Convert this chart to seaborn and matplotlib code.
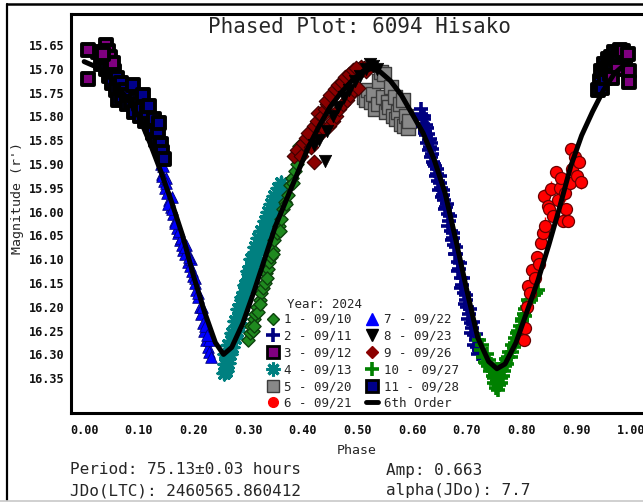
import matplotlib
matplotlib.use("Agg")
import matplotlib.pyplot as plt
from matplotlib.lines import Line2D
import seaborn as sns

sns.set_theme(style="white")
plt.rcParams["font.family"] = ["DejaVu Sans Mono", "DejaVu Sans"]

# ---------------------------------------------------------------- data
# 1 - 09/10
s1_phase = [0.300, 0.303, 0.305, 0.308, 0.310, 0.313, 0.316, 0.318, 0.321, 0.324,
            0.327, 0.330, 0.333, 0.336, 0.339, 0.342, 0.345, 0.348, 0.352, 0.356,
            0.360, 0.364, 0.368, 0.372, 0.376, 0.380, 0.385, 0.390, 0.393, 0.400,
            0.405, 0.410, 0.311, 0.322, 0.334, 0.346, 0.358, 0.370, 0.382]
s1_mag = [16.270, 16.255, 16.240, 16.250, 16.225, 16.215, 16.200, 16.210, 16.185, 16.170,
          16.160, 16.150, 16.130, 16.120, 16.105, 16.095, 16.080, 16.060, 16.045, 16.030,
          16.015, 15.995, 15.980, 15.965, 15.945, 15.930, 15.915, 15.900, 15.862, 15.870,
          15.860, 15.845, 16.240, 16.195, 16.140, 16.090, 16.040, 15.985, 15.940]

# 2 - 09/11
s2_phase = [0.616, 0.618, 0.620, 0.622, 0.624, 0.626, 0.628, 0.630, 0.632, 0.634,
            0.636, 0.639, 0.642, 0.645, 0.648, 0.650, 0.653, 0.656, 0.659, 0.662,
            0.665, 0.668, 0.671, 0.674, 0.677, 0.680, 0.683, 0.686, 0.689, 0.692,
            0.695, 0.698, 0.701, 0.704, 0.707, 0.710, 0.713, 0.716, 0.719, 0.722,
            0.617, 0.619, 0.621, 0.623, 0.625, 0.627, 0.629, 0.631, 0.633, 0.635,
            0.637, 0.640, 0.643, 0.646, 0.649, 0.651, 0.654, 0.657, 0.660, 0.663,
            0.666, 0.669, 0.672, 0.675, 0.678, 0.681, 0.684, 0.687, 0.690, 0.693,
            0.696, 0.699, 0.702, 0.705, 0.708, 0.711, 0.714, 0.717, 0.720, 0.724]
s2_mag = [15.785, 15.800, 15.815, 15.805, 15.830, 15.840, 15.825, 15.850, 15.865, 15.855,
          15.880, 15.895, 15.905, 15.920, 15.935, 15.925, 15.950, 15.965, 15.975, 15.990,
          16.005, 16.020, 16.040, 16.055, 16.070, 16.090, 16.105, 16.120, 16.140, 16.155,
          16.170, 16.185, 16.200, 16.215, 16.235, 16.245, 16.260, 16.270, 16.285, 16.290,
          15.795, 15.820, 15.800, 15.835, 15.818, 15.855, 15.838, 15.870, 15.848, 15.885,
          15.868, 15.900, 15.925, 15.910, 15.955, 15.940, 15.970, 15.955, 15.995, 15.985,
          16.030, 16.010, 16.060, 16.045, 16.090, 16.075, 16.125, 16.108, 16.160, 16.140,
          16.195, 16.175, 16.225, 16.205, 16.255, 16.232, 16.280, 16.258, 16.300, 16.298]

# 3 - 09/12
s3_phase = [0.007, 0.007, 0.040, 0.043, 0.048, 0.052, 0.035,
            0.985, 0.994, 0.996, 0.997, 0.975, 0.965]
s3_mag = [15.660, 15.722, 15.650, 15.662, 15.675, 15.688, 15.668,
          15.662, 15.668, 15.705, 15.727, 15.700, 15.720]

# 4 - 09/13
s4_phase = [0.255, 0.257, 0.259, 0.261, 0.263, 0.265, 0.267, 0.269, 0.271, 0.273,
            0.275, 0.277, 0.279, 0.281, 0.283, 0.285, 0.287, 0.289, 0.291, 0.293,
            0.295, 0.297, 0.299, 0.301, 0.303, 0.305, 0.307, 0.309, 0.311, 0.313,
            0.316, 0.319, 0.322, 0.325, 0.328, 0.331, 0.334, 0.337, 0.340, 0.343,
            0.346, 0.349, 0.352, 0.355, 0.358, 0.361,
            0.258, 0.264, 0.270, 0.276, 0.282, 0.288, 0.294, 0.300, 0.306, 0.312,
            0.318, 0.324, 0.330, 0.336, 0.342, 0.348, 0.354, 0.360]
s4_mag = [16.340, 16.320, 16.335, 16.305, 16.318, 16.290, 16.300, 16.272, 16.285, 16.258,
          16.265, 16.240, 16.250, 16.222, 16.235, 16.205, 16.215, 16.185, 16.198, 16.168,
          16.178, 16.150, 16.160, 16.132, 16.145, 16.115, 16.128, 16.100, 16.112, 16.085,
          16.098, 16.070, 16.082, 16.052, 16.065, 16.035, 16.048, 16.018, 16.030, 15.998,
          16.010, 15.980, 15.992, 15.962, 15.975, 15.955,
          16.300, 16.280, 16.255, 16.230, 16.205, 16.180, 16.155, 16.125, 16.100, 16.075,
          16.055, 16.040, 16.020, 16.000, 15.985, 15.968, 15.950, 15.940]

# 5 - 09/20
s5_phase = [0.512, 0.516, 0.520, 0.525, 0.528, 0.532, 0.537, 0.540, 0.543, 0.546,
            0.548, 0.552, 0.555, 0.558, 0.561, 0.565, 0.568, 0.571, 0.574, 0.578,
            0.580, 0.583, 0.585, 0.589, 0.592, 0.595]
s5_mag = [15.760, 15.765, 15.745, 15.770, 15.754, 15.785, 15.775, 15.725, 15.706, 15.760,
          15.712, 15.790, 15.770, 15.780, 15.738, 15.800, 15.760, 15.805, 15.790, 15.775,
          15.815, 15.765, 15.820, 15.800, 15.825, 15.810]

# 6 - 09/21
s6_phase = [0.804, 0.806, 0.810, 0.812, 0.816, 0.820, 0.824, 0.828, 0.832, 0.835,
            0.839, 0.841, 0.843, 0.848, 0.850, 0.854, 0.858, 0.863, 0.866, 0.870,
            0.873, 0.876, 0.879, 0.881, 0.885, 0.888, 0.890, 0.893, 0.897, 0.901,
            0.905, 0.909]
s6_mag = [16.270, 16.245, 16.200, 16.156, 16.170, 16.123, 16.140, 16.095, 16.110, 16.067,
          16.046, 15.967, 16.030, 15.988, 15.994, 15.952, 16.010, 15.917, 15.975, 15.950,
          15.930, 16.020, 15.960, 15.994, 16.019, 15.940, 15.869, 15.910, 15.885, 15.925,
          15.896, 15.937]
s6_err = [0.010, 0.012, 0.015, 0.010, 0.018, 0.012, 0.020, 0.010, 0.015, 0.012,
          0.010, 0.014, 0.018, 0.012, 0.010, 0.016, 0.012, 0.010, 0.020, 0.012,
          0.014, 0.010, 0.018, 0.012, 0.010, 0.015, 0.010, 0.012, 0.014, 0.010,
          0.012, 0.015]

# 7 - 09/22
s7_phase = [0.138, 0.140, 0.142, 0.144, 0.146, 0.148, 0.150, 0.152, 0.155, 0.158,
            0.160, 0.163, 0.166, 0.169, 0.172, 0.175, 0.178, 0.181, 0.184, 0.187,
            0.190, 0.193, 0.196, 0.199, 0.202, 0.205, 0.208, 0.211, 0.214, 0.217,
            0.220, 0.223, 0.226, 0.228, 0.229, 0.232,
            0.143, 0.149, 0.154, 0.161, 0.167, 0.173, 0.179, 0.185, 0.191, 0.197,
            0.203, 0.209, 0.215, 0.221, 0.225]
s7_mag = [15.875, 15.900, 15.920, 15.905, 15.935, 15.950, 15.930, 15.960, 15.975, 15.990,
          15.970, 16.005, 16.020, 16.035, 16.045, 16.060, 16.055, 16.080, 16.090, 16.070,
          16.105, 16.115, 16.100, 16.135, 16.150, 16.165, 16.180, 16.200, 16.215, 16.235,
          16.250, 16.270, 16.285, 16.270, 16.295, 16.305,
          15.925, 15.940, 15.985, 15.995, 16.025, 16.040, 16.070, 16.075, 16.095, 16.125,
          16.140, 16.170, 16.200, 16.240, 16.260]

# 8 - 09/23
s8_phase = [0.420, 0.430, 0.440, 0.445, 0.455, 0.465, 0.475, 0.485, 0.495, 0.505,
            0.515, 0.522, 0.528, 0.535]
s8_mag = [15.860, 15.850, 15.894, 15.830, 15.800, 15.780, 15.760, 15.745, 15.725, 15.715,
          15.700, 15.690, 15.695, 15.700]

# 9 - 09/26
s9_phase = [0.384, 0.390, 0.397, 0.400, 0.405, 0.410, 0.415, 0.420, 0.420, 0.425,
            0.428, 0.430, 0.435, 0.439, 0.440, 0.445, 0.448, 0.452, 0.455, 0.457,
            0.460, 0.463, 0.467, 0.470, 0.473, 0.476, 0.480, 0.483, 0.487, 0.490,
            0.493, 0.496, 0.500, 0.503, 0.506, 0.509, 0.512, 0.515,
            0.443, 0.450, 0.458, 0.465, 0.472, 0.478, 0.485, 0.492, 0.498]
s9_mag = [15.883, 15.870, 15.883, 15.855, 15.845, 15.835, 15.865, 15.896, 15.820, 15.810,
          15.792, 15.840, 15.800, 15.827, 15.785, 15.775, 15.820, 15.760, 15.810, 15.750,
          15.800, 15.745, 15.785, 15.735, 15.775, 15.725, 15.765, 15.720, 15.755, 15.712,
          15.745, 15.705, 15.740, 15.700, 15.696, 15.702, 15.698, 15.705,
          15.768, 15.755, 15.742, 15.735, 15.728, 15.718, 15.710, 15.702, 15.698]

# 10 - 09/27
s10_phase = [0.722, 0.726, 0.730, 0.733, 0.736, 0.739, 0.742, 0.745, 0.747, 0.749,
             0.751, 0.753, 0.755, 0.757, 0.759, 0.761, 0.763, 0.765, 0.768, 0.771,
             0.774, 0.777, 0.780, 0.783, 0.786, 0.789, 0.792, 0.795, 0.798, 0.801,
             0.804, 0.807, 0.810, 0.814, 0.818, 0.822, 0.826, 0.830,
             0.728, 0.735, 0.741, 0.746, 0.750, 0.754, 0.758, 0.762, 0.766, 0.770,
             0.776, 0.782, 0.788, 0.794, 0.800, 0.806, 0.812]
s10_mag = [16.270, 16.290, 16.305, 16.315, 16.300, 16.325, 16.335, 16.320, 16.345, 16.360,
           16.340, 16.370, 16.355, 16.375, 16.345, 16.330, 16.360, 16.320, 16.335, 16.310,
           16.320, 16.295, 16.305, 16.280, 16.285, 16.265, 16.255, 16.260, 16.240, 16.230,
           16.215, 16.220, 16.200, 16.190, 16.185, 16.175, 16.170, 16.165,
           16.280, 16.318, 16.312, 16.330, 16.350, 16.362, 16.365, 16.350, 16.345, 16.325,
           16.305, 16.295, 16.275, 16.250, 16.225, 16.205, 16.185]

# 11 - 09/28
s11_phase = [0.025, 0.030, 0.035, 0.040, 0.045, 0.048, 0.050, 0.055, 0.058, 0.060,
             0.062, 0.065, 0.068, 0.070, 0.075, 0.078, 0.080, 0.085, 0.090, 0.092,
             0.095, 0.100, 0.103, 0.106, 0.108, 0.112, 0.115, 0.119, 0.122, 0.125,
             0.128, 0.132, 0.135, 0.137, 0.139, 0.141, 0.143, 0.146,
             0.940, 0.943, 0.946, 0.948, 0.950, 0.953, 0.956, 0.958, 0.961, 0.964,
             0.967, 0.970, 0.973, 0.977, 0.980]
s11_mag = [15.665, 15.690, 15.675, 15.700, 15.715, 15.690, 15.730, 15.705, 15.745, 15.720,
           15.765, 15.740, 15.730, 15.760, 15.745, 15.775, 15.755, 15.770, 15.735, 15.790,
           15.765, 15.775, 15.800, 15.785, 15.756, 15.810, 15.790, 15.779, 15.820, 15.835,
           15.805, 15.850, 15.830, 15.813, 15.862, 15.858, 15.875, 15.890,
           15.745, 15.725, 15.705, 15.740, 15.690, 15.720, 15.700, 15.680, 15.710, 15.675,
           15.690, 15.665, 15.680, 15.670, 15.660]

# 6th order Fourier fit
fit_phase = [0.00, 0.02, 0.04, 0.06, 0.08, 0.10, 0.12, 0.14, 0.16, 0.18,
             0.20, 0.22, 0.24, 0.255, 0.27, 0.29, 0.31, 0.33, 0.35, 0.37,
             0.39, 0.41, 0.43, 0.45, 0.47, 0.49, 0.51, 0.525, 0.54, 0.56,
             0.58, 0.60, 0.62, 0.64, 0.66, 0.68, 0.70, 0.72, 0.74, 0.755,
             0.77, 0.79, 0.81, 0.83, 0.85, 0.87, 0.89, 0.91, 0.93, 0.95,
             0.97, 0.99, 1.00]
fit_mag = [15.685, 15.695, 15.710, 15.735, 15.765, 15.800, 15.855, 15.915, 15.980, 16.050,
           16.135, 16.210, 16.275, 16.300, 16.285, 16.235, 16.170, 16.100, 16.030, 15.975,
           15.920, 15.865, 15.820, 15.780, 15.750, 15.725, 15.705, 15.700, 15.705, 15.725,
           15.755, 15.795, 15.835, 15.890, 15.960, 16.060, 16.165, 16.265, 16.315, 16.330,
           16.320, 16.275, 16.210, 16.145, 16.070, 15.990, 15.905, 15.840, 15.790, 15.745,
           15.710, 15.690, 15.685]

x_ticks = [0.0, 0.1, 0.2, 0.3, 0.4, 0.5, 0.6, 0.7, 0.8, 0.9, 1.0]
y_ticks = [15.65, 15.70, 15.75, 15.80, 15.85, 15.90, 15.95, 16.00, 16.05, 16.10,
           16.15, 16.20, 16.25, 16.30, 16.35]

# ---------------------------------------------------------------- figure
W, H = 643, 504
fig = plt.figure(figsize=(W / 100, H / 100), dpi=100)
ax = fig.add_axes([70.5 / W, 1 - 413 / H, (644.5 - 70.5) / W, (413 - 14) / H])

common = dict(ax=ax, legend=False)
sns.scatterplot(x=s7_phase, y=s7_mag, marker="^", s=70, color="#0000ff",
                edgecolor="#00007a", linewidth=0.6, zorder=3, **common)
sns.scatterplot(x=s1_phase, y=s1_mag, marker="D", s=45, color="#1f8a1f",
                edgecolor="#0d420d", linewidth=1.0, zorder=3, **common)
sns.scatterplot(x=s4_phase, y=s4_mag, marker=(8, 2, 0), s=85, color="#008080",
                linewidth=2.4, zorder=2, **common)
sns.scatterplot(x=s9_phase, y=s9_mag, marker="D", s=55, color="#8b0000",
                edgecolor="#3d0000", linewidth=0.8, zorder=3, **common)
sns.scatterplot(x=s8_phase, y=s8_mag, marker="v", s=80, color="black",
                edgecolor="black", linewidth=0.5, zorder=3, **common)
sns.scatterplot(x=s5_phase, y=s5_mag, marker="s", s=90, color="#888888",
                edgecolor="#3c3c3c", linewidth=1.0, zorder=2, **common)
sns.scatterplot(x=s2_phase, y=s2_mag, marker="+", s=110, color="#000080",
                linewidth=2.6, zorder=3, **common)
sns.scatterplot(x=s10_phase, y=s10_mag, marker="+", s=110, color="#008000",
                linewidth=2.6, zorder=3, **common)
ax.errorbar(s6_phase, s6_mag, yerr=s6_err, fmt="none", ecolor="#ff0000",
            elinewidth=1.0, zorder=3)
sns.scatterplot(x=s6_phase, y=s6_mag, marker="o", s=75, color="#ff0000",
                edgecolor="#6a0000", linewidth=0.9, zorder=3, **common)
sns.scatterplot(x=s11_phase, y=s11_mag, marker="s", s=70, color="#00008b",
                edgecolor="black", linewidth=2.8, zorder=3, **common)
sns.scatterplot(x=s3_phase, y=s3_mag, marker="s", s=70, color="#800080",
                edgecolor="black", linewidth=2.8, zorder=3, **common)

sns.lineplot(x=fit_phase, y=fit_mag, ax=ax, color="black", linewidth=3.6,
             sort=False, estimator=None, zorder=5)

# axes styling
ax.set_xlim(-0.025, 1.025)
ax.set_ylim(16.423, 15.585)
ax.set_xticks(x_ticks)
ax.set_xticklabels([f"{t:.2f}" for t in x_ticks])
ax.set_yticks(y_ticks)
ax.set_yticklabels([f"{t:.2f}" for t in y_ticks])
ax.tick_params(axis="both", direction="in", length=8.5, width=1.2, color="black",
               labelsize=8.5, labelcolor="#111111")
ax.tick_params(axis="x", pad=8)
ax.tick_params(axis="y", pad=4)
for lab in ax.get_xticklabels() + ax.get_yticklabels():
    lab.set_fontweight("bold")
for side in ["left", "bottom", "top", "right"]:
    ax.spines[side].set_color("black")
    ax.spines[side].set_linewidth(2.2)
ax.set_xlabel("")
ax.set_ylabel("")

# legend
def proxy(kw):
    return Line2D([], [], linestyle="none", **kw)

handles = [
    proxy(dict(marker="D", markersize=6, markerfacecolor="#1f8a1f", markeredgecolor="#0d420d")),
    proxy(dict(marker="+", markersize=10, markeredgewidth=2.6, color="#000080")),
    proxy(dict(marker="s", markersize=8, markerfacecolor="#800080", markeredgecolor="black", markeredgewidth=2)),
    proxy(dict(marker=(8, 2, 0), markersize=10, markeredgewidth=2.2, color="#008080")),
    proxy(dict(marker="s", markersize=8, markerfacecolor="#888888", markeredgecolor="#3c3c3c")),
    proxy(dict(marker="o", markersize=7, markerfacecolor="#ff0000", markeredgecolor="#ff0000")),
    proxy(dict(marker="^", markersize=8, markerfacecolor="#0000ff", markeredgecolor="#0000ff")),
    proxy(dict(marker="v", markersize=8, markerfacecolor="black", markeredgecolor="black")),
    proxy(dict(marker="D", markersize=6, markerfacecolor="#8b0000", markeredgecolor="#8b0000")),
    proxy(dict(marker="+", markersize=10, markeredgewidth=2.6, color="#008000")),
    proxy(dict(marker="s", markersize=8, markerfacecolor="#00008b", markeredgecolor="black", markeredgewidth=2)),
    Line2D([], [], color="black", linewidth=3.5),
]
labels = ["1 - 09/10", "2 - 09/11", "3 - 09/12", "4 - 09/13", "5 - 09/20",
          "6 - 09/21", "7 - 09/22", "8 - 09/23", "9 - 09/26", "10 - 09/27",
          "11 - 09/28", "6th Order"]
leg = ax.legend(handles, labels, ncol=2, frameon=False,
                loc="upper left", bbox_to_anchor=(267 / W, 1 - 313 / H),
                bbox_transform=fig.transFigure, fontsize=9,
                handlelength=0.9, handletextpad=0.5, columnspacing=1.15,
                labelspacing=0.3, borderpad=0.0, borderaxespad=0.0)
leg.set_zorder(1)
fig.text(287 / W, 1 - 305 / H, "Year: 2024", ha="left", va="center", fontsize=9)

# titles and annotations
fig.text(360 / W, 1 - 27 / H, "Phased Plot: 6094 Hisako", ha="center", va="center",
         fontsize=15)
fig.text(357 / W, 1 - 451 / H, "Phase", ha="center", va="center", fontsize=9.5)
fig.text(18 / W, 1 - 198 / H, "Magnitude (r')", ha="center", va="center",
         rotation=90, fontsize=9.5)
fig.text(70 / W, 1 - 470 / H, "Period: 75.13\u00b10.03 hours", ha="left", va="center",
         fontsize=11.5)
fig.text(386 / W, 1 - 470 / H, "Amp: 0.663", ha="left", va="center", fontsize=11.5)
fig.text(70 / W, 1 - 491 / H, "JDo(LTC): 2460565.860412", ha="left", va="center",
         fontsize=11.5)
fig.text(386 / W, 1 - 491 / H, "alpha(JDo): 7.7", ha="left", va="center", fontsize=11.5)

# outer frame
fig.add_artist(Line2D([7 / W, 7 / W], [1 - 4 / H, 1 - 500 / H], transform=fig.transFigure,
                      color="black", linewidth=1.6))
fig.add_artist(Line2D([7 / W, 1.0], [1 - 4 / H, 1 - 4 / H], transform=fig.transFigure,
                      color="black", linewidth=1.8))
fig.add_artist(Line2D([0.0, 1.0], [1 - 501 / H, 1 - 501 / H], transform=fig.transFigure,
                      color="#c8c8c8", linewidth=1.2))

fig.savefig("out.png", dpi=100)
